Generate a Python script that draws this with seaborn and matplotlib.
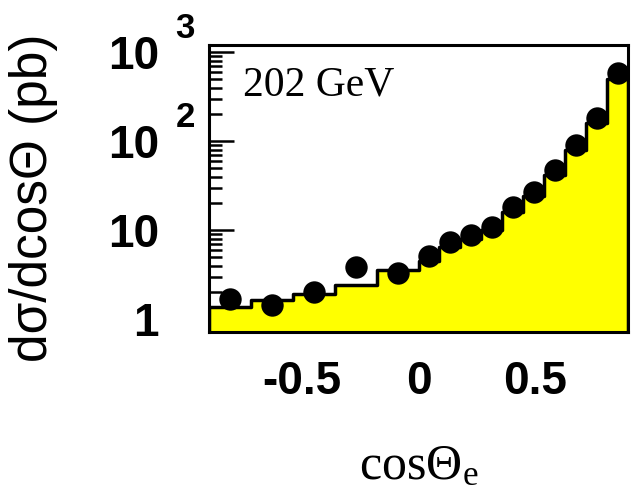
import numpy as np
import seaborn as sns
import matplotlib.pyplot as plt
from matplotlib.ticker import MultipleLocator, NullFormatter, LogLocator

# bin edges: 0.18 wide for cos<0, 0.09 wide for cos>0
bin_edges = [-0.9, -0.72, -0.54, -0.36, -0.18, 0.0,
             0.09, 0.18, 0.27, 0.36, 0.45, 0.54, 0.63, 0.72, 0.81, 0.9]
# simulated cross-section (yellow histogram), pb
mc_xsec = [1.37, 1.66, 1.94, 2.41, 3.55,
           4.5, 6.4, 8.0, 10.0, 16.0, 24.0, 42.0, 79.0, 160.0, 500.0]
# measured cross-section (dots), pb
data_xsec = [1.71, 1.44, 2.03, 3.87, 3.31,
             5.1, 7.4, 8.8, 10.9, 18.3, 26.9, 47.0, 90.0, 180.0, 585.0]

centers = [(a + b) / 2 for a, b in zip(bin_edges[:-1], bin_edges[1:])]

sns.set_style('ticks')
plt.rcParams['mathtext.fontset'] = 'custom'
plt.rcParams['mathtext.rm'] = 'Liberation Serif'
plt.rcParams['mathtext.it'] = 'Liberation Serif:italic'
plt.rcParams['text.color'] = 'black'
plt.rcParams['axes.labelcolor'] = 'black'
plt.rcParams['xtick.color'] = 'black'
plt.rcParams['ytick.color'] = 'black'

fig = plt.figure(figsize=(6.31, 4.91), dpi=100)
ax = fig.add_axes([209 / 631, 1 - 332 / 491, 419 / 631, 287 / 491])
ax.set_yscale('log')

sns.histplot(x=centers, weights=mc_xsec, bins=bin_edges, element='step',
             fill=True, color='#ffff00', alpha=1, edgecolor='black',
             linewidth=2.5, ax=ax)
sns.scatterplot(x=centers, y=data_xsec, color='black', s=260,
                linewidth=0, ax=ax, zorder=5)

ax.set_xlim(-0.9, 0.9)
ax.set_ylim(0.72, 1200)

# ticks
ax.set_xticks([-0.5, 0, 0.5])
ax.set_xticklabels(['-0.5', '0', '0.5'])
ax.xaxis.set_minor_locator(MultipleLocator(0.1))
ax.set_yticks([1, 10, 100, 1000])
ax.set_yticklabels(['1', '10', '10', '10'])
ax.yaxis.set_minor_locator(LogLocator(base=10, subs=np.arange(2, 10)))
ax.yaxis.set_minor_formatter(NullFormatter())
ax.tick_params(which='both', direction='in', top=False, right=False,
               color='black', labelcolor='black', width=1.8)
ax.tick_params(axis='x', which='major', length=23, pad=20)
ax.tick_params(axis='x', which='minor', length=9)
ax.tick_params(axis='y', which='major', length=18, pad=36)
ax.tick_params(axis='y', which='minor', length=9)
for lab in ax.get_xticklabels() + ax.get_yticklabels():
    lab.set_fontfamily('Liberation Sans')
    lab.set_fontweight('bold')
    lab.set_fontsize(33)

# exponents of the y tick labels
for v, e in [(1000, '3'), (100, '2')]:
    ax.annotate(e, xy=(0, v), xycoords=('axes fraction', 'data'),
                xytext=(-17, 17), textcoords='offset points',
                ha='center', va='center', fontsize=25, color='black',
                family='Liberation Sans', fontweight='bold')

for s in ax.spines.values():
    s.set_linewidth(2.2)
    s.set_color('black')

ax.text(0.082, 0.86, '202 GeV', transform=ax.transAxes, ha='left',
        va='center', family='Liberation Serif', fontsize=30, color='black')

ax.set_ylabel('dσ/dcosΘ (pb)', family='Liberation Sans', fontsize=37)
ax.yaxis.set_label_coords(-0.42, 0.467)
ax.yaxis.label.set_va('center')
ax.set_xlabel('cosΘ$_{\\mathrm{e}}$', family='Liberation Serif', fontsize=36)
ax.xaxis.set_label_coords(0.5, -0.55)
ax.xaxis.label.set_va('bottom')

fig.savefig('out.png', dpi=100)
